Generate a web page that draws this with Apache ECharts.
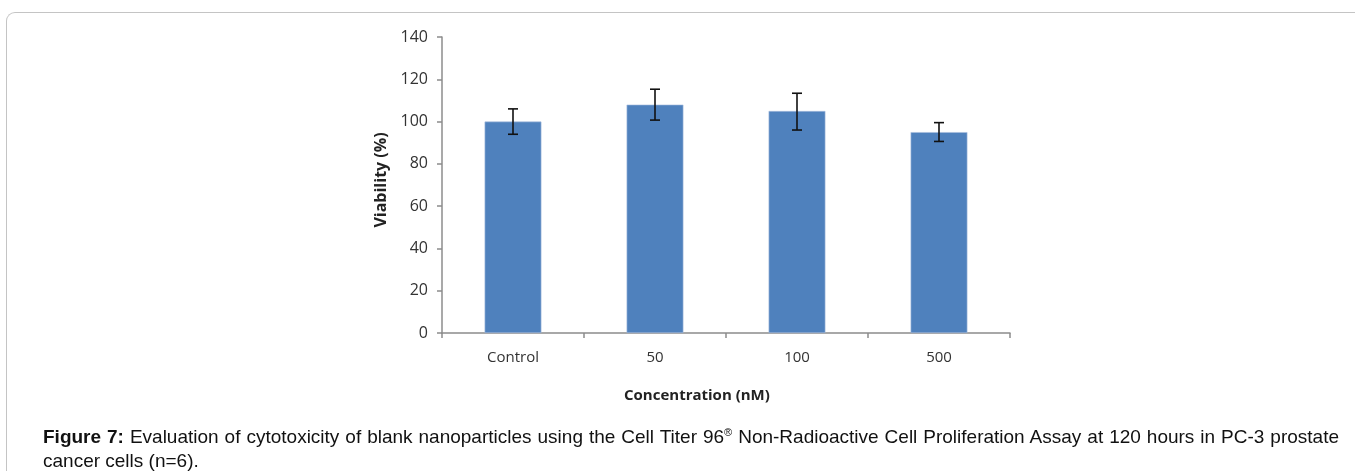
<!DOCTYPE html>
<html>
<head>
<meta charset="utf-8">
<script src="https://cdn.jsdelivr.net/npm/echarts@6/dist/echarts.min.js"></script>
<style>
  html, body { margin: 0; padding: 0; background: #fff; }
  #frame {
    position: absolute; left: 6px; top: 12px; width: 1360px; height: 470px;
    border-top: 1.5px solid #c4c4c4; border-left: 1.5px solid #c4c4c4;
    border-top-left-radius: 9px;
  }
  #chart { position: absolute; left: 0; top: 0; width: 1355px; height: 471px; }
  #caption {
    position: absolute; left: 43px; top: 425px; width: 1296px;
    font-family: "Liberation Sans", Arial, sans-serif; font-size: 19px;
    line-height: 24px; color: #111; text-align: justify;
  }
  #caption sup { font-size: 11px; line-height: 0; }
</style>
</head>
<body>
<div id="frame"></div>
<div id="chart"></div>
<div id="caption"><b>Figure 7:</b> Evaluation of cytotoxicity of blank nanoparticles using the Cell Titer 96<sup>®</sup> Non-Radioactive Cell Proliferation Assay at 120 hours in PC-3 prostate cancer cells (n=6).</div>
<script>
  // 数据
  const categories = ['Control', '50', '100', '500'];
  const viability = [100, 108, 105, 95];
  const errHigh = [106, 115.3, 113.4, 99.5];
  const errLow = [94, 100.7, 96, 90.6];
  const xTitle = 'Concentration (nM)';
  const yTitle = 'Viability (%)';

  const chart = echarts.init(document.getElementById('chart'));
  const labelFont = '"Open Sans", sans-serif';
  const axisGray = '#8c8c8c';

  chart.setOption({
    animation: false,
    grid: { left: 442, top: 37, width: 568, height: 296, containLabel: false },
    // 轴标题（Excel里标题并不完全居中）
    graphic: [
      {
        type: 'text', left: 697 - 73, top: 388,
        style: { text: xTitle, font: 'bold 15px "Open Sans", sans-serif', fill: '#222' }
      },
      {
        type: 'text', x: 381, y: 180, rotation: Math.PI / 2,
        style: { text: yTitle, font: 'bold 16px "Open Sans", sans-serif', fill: '#222', align: 'center', verticalAlign: 'middle' }
      }
    ],
    xAxis: {
      type: 'category',
      data: categories,
      axisLine: { lineStyle: { color: axisGray, width: 1.5 } },
      axisTick: { show: true, length: 5, alignWithLabel: false, lineStyle: { color: axisGray, width: 1.5 } },
      axisLabel: { fontFamily: labelFont, fontSize: 15, color: '#333', margin: 17 }
    },
    yAxis: {
      type: 'value',
      min: 0, max: 140, interval: 20,
      axisLine: { show: true, lineStyle: { color: axisGray, width: 1.5 } },
      axisTick: { show: true, length: 5, lineStyle: { color: axisGray, width: 1.5 } },
      axisLabel: { fontFamily: labelFont, fontSize: 16, color: '#333', margin: 14 },
      splitLine: { show: false }
    },
    series: [
      {
        type: 'bar',
        data: viability,
        barWidth: '40%',
        itemStyle: { color: '#4f81bd', borderColor: '#a7bedd', borderWidth: 0.6 }
      },
      {
        // 误差线
        type: 'custom',
        data: categories.map((c, i) => [i, errLow[i], errHigh[i]]),
        renderItem: (params, api) => {
          const lo = api.coord([api.value(0), api.value(1)]);
          const hi = api.coord([api.value(0), api.value(2)]);
          const cap = 5;
          const style = { stroke: '#111', lineWidth: 1.6 };
          return {
            type: 'group',
            children: [
              { type: 'line', shape: { x1: hi[0], y1: hi[1], x2: lo[0], y2: lo[1] }, style },
              { type: 'line', shape: { x1: hi[0] - cap, y1: hi[1], x2: hi[0] + cap, y2: hi[1] }, style },
              { type: 'line', shape: { x1: lo[0] - cap, y1: lo[1], x2: lo[0] + cap, y2: lo[1] }, style }
            ]
          };
        },
        z: 10
      }
    ]
  });
</script>
</body>
</html>
